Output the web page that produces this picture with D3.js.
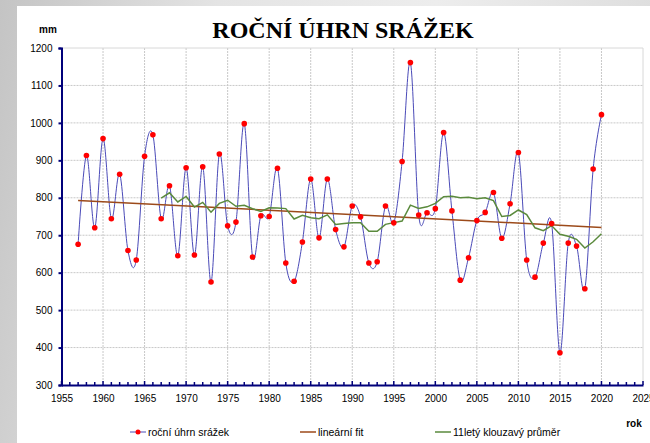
<!DOCTYPE html>
<html>
<head>
<meta charset="utf-8">
<script src="https://cdn.jsdelivr.net/npm/d3@7"></script>
<style>
  html, body { margin: 0; padding: 0; }
  body {
    width: 650px; height: 443px; overflow: hidden;
    background: linear-gradient(100deg, #c4c4c4 0%, #e4e4e4 30%, #ededed 60%, #d9d9d9 100%);
  }
  svg { display: block; }
</style>
</head>
<body>
<div id="chart"></div>
<script>
// roky a roční úhrny srážek (mm)
const years = d3.range(1957, 2021);
const rainfall = [
  676, 913, 720, 958, 744, 863, 659, 634, 911, 968,
  744, 832, 645, 880, 647, 883, 575, 917, 725, 735,
  998, 642, 752, 750, 879, 626, 577, 682, 850, 693,
  850, 715, 669, 778, 749, 626, 629, 778, 733, 897,
  1161, 754, 760, 771, 974, 765, 580, 640, 739, 761,
  814, 692, 784, 921, 634, 588, 679, 731, 386, 679,
  671, 557, 877, 1022
];
const xTicks = d3.range(1955, 2026, 5);
const yTicks = d3.range(300, 1201, 100);
const seriesNames = ['roční úhrn srážek', 'lineární fit', '11letý klouzavý průměr'];

const width = 650, height = 443;
const plot = { left: 61.5, right: 643, top: 48, bottom: 385 };

const svg = d3.select('#chart').append('svg')
  .attr('width', width)
  .attr('height', height);

// bílý panel grafu
svg.append('rect')
  .attr('x', 17).attr('y', 6)
  .attr('width', width - 17).attr('height', height - 6)
  .attr('fill', '#ffffff');

const x = d3.scaleLinear().domain([1955, 2025]).range([plot.left, plot.right]);
const y = d3.scaleLinear().domain([300, 1200]).range([plot.bottom, plot.top]);

const data = years.map((yr, i) => ({ year: yr, value: rainfall[i] }));

// lineární regrese
const mx = d3.mean(years), my = d3.mean(rainfall);
const slope = d3.sum(data, d => (d.year - mx) * (d.value - my)) / d3.sum(data, d => (d.year - mx) ** 2);
const fit = [years[0], years[years.length - 1]].map(yr => ({ year: yr, value: my + slope * (yr - mx) }));

// 11letý klouzavý průměr
const moving = data.slice(10).map((d, i) => ({
  year: d.year,
  value: d3.mean(rainfall.slice(i, i + 11))
}));

// mřížka
const grid = svg.append('g').attr('class', 'grid');
grid.selectAll('line.gx')
  .data(xTicks.slice(1, -1))
  .enter().append('line')
  .attr('x1', d => x(d)).attr('x2', d => x(d))
  .attr('y1', plot.top).attr('y2', plot.bottom)
  .attr('stroke', '#c8c8c8').attr('stroke-dasharray', '2,1');
grid.selectAll('line.gy')
  .data(yTicks.slice(1, -1))
  .enter().append('line')
  .attr('x1', plot.left).attr('x2', plot.right)
  .attr('y1', d => y(d)).attr('y2', d => y(d))
  .attr('stroke', '#c8c8c8').attr('stroke-dasharray', '2,1');
// horní a pravý okraj
grid.append('path')
  .attr('d', `M${plot.left},${plot.top}H${plot.right}V${plot.bottom}`)
  .attr('fill', 'none')
  .attr('stroke', '#d8d8d8')
  .attr('stroke-width', 1);

// osy
const xAxis = svg.append('g')
  .attr('transform', `translate(0, ${plot.bottom})`)
  .call(d3.axisBottom(x).tickValues(xTicks).tickFormat(d3.format('d')).tickSize(0).tickPadding(10));
const yAxis = svg.append('g')
  .attr('transform', `translate(${plot.left}, 0)`)
  .call(d3.axisLeft(y).tickValues(yTicks).tickFormat(d3.format('d')).tickSize(3).tickPadding(6));

[xAxis, yAxis].forEach(ax => {
  ax.select('.domain').attr('stroke', '#00007a').attr('stroke-width', 2);
  ax.selectAll('.tick line').attr('stroke', '#00007a').attr('stroke-width', 2);
  ax.selectAll('.tick text')
    .attr('fill', '#000')
    .attr('font-family', 'Liberation Sans, Arial, sans-serif')
    .attr('font-size', 10);
});

// drobné značky na ose x (každý rok)
svg.append('g')
  .selectAll('line')
  .data(d3.range(1955, 2026))
  .enter().append('line')
  .attr('x1', d => x(d)).attr('x2', d => x(d))
  .attr('y1', plot.bottom).attr('y2', d => plot.bottom - (d % 5 === 0 ? 4 : 3))
  .attr('stroke', '#00007a')
  .attr('stroke-width', 1.5);

// vyhlazená křivka srážek
svg.append('path')
  .datum(data)
  .attr('fill', 'none')
  .attr('stroke', '#4a4ab8')
  .attr('stroke-width', 1)
  .attr('d', d3.line().x(d => x(d.year)).y(d => y(d.value)).curve(d3.curveCardinal.tension(0)));

// lineární fit
svg.append('path')
  .datum(fit)
  .attr('fill', 'none')
  .attr('stroke', '#9c4a1a')
  .attr('stroke-width', 1.5)
  .attr('d', d3.line().x(d => x(d.year)).y(d => y(d.value)));

// klouzavý průměr
svg.append('path')
  .datum(moving)
  .attr('fill', 'none')
  .attr('stroke', '#5a8a3c')
  .attr('stroke-width', 1.5)
  .attr('d', d3.line().x(d => x(d.year)).y(d => y(d.value)));

// body
svg.append('g')
  .selectAll('circle')
  .data(data)
  .enter().append('circle')
  .attr('cx', d => x(d.year))
  .attr('cy', d => y(d.value))
  .attr('r', 2.8)
  .attr('fill', '#ff0000');

// nadpis a popisky
svg.append('text')
  .attr('x', 343).attr('y', 38)
  .attr('text-anchor', 'middle')
  .attr('font-family', 'Liberation Serif, Times New Roman, serif')
  .attr('font-weight', 'bold')
  .attr('font-size', 24)
  .text('ROČNÍ ÚHRN SRÁŽEK');

svg.append('text')
  .attr('x', 48).attr('y', 33)
  .attr('text-anchor', 'middle')
  .attr('font-family', 'Liberation Sans, Arial, sans-serif')
  .attr('font-weight', 'bold')
  .attr('font-size', 10)
  .text('mm');

svg.append('text')
  .attr('x', 634).attr('y', 427)
  .attr('text-anchor', 'middle')
  .attr('font-family', 'Liberation Sans, Arial, sans-serif')
  .attr('font-weight', 'bold')
  .attr('font-size', 10)
  .text('rok');

// legenda
const legendX = [130, 300, 435];
const legendColors = ['#4a4ab8', '#9c4a1a', '#5a8a3c'];
const legend = svg.append('g')
  .selectAll('g')
  .data(seriesNames)
  .enter().append('g')
  .attr('transform', (d, i) => `translate(${legendX[i]}, 432)`);

legend.append('line')
  .attr('x1', 0).attr('x2', 16)
  .attr('y1', 0).attr('y2', 0)
  .attr('stroke', (d, i) => legendColors[i])
  .attr('stroke-width', (d, i) => i === 0 ? 1 : 1.5);

legend.filter((d, i) => i === 0).append('circle')
  .attr('cx', 8).attr('cy', 0).attr('r', 2.5)
  .attr('fill', '#ff0000');

legend.append('text')
  .attr('x', 18).attr('y', 4)
  .attr('font-family', 'Liberation Sans, Arial, sans-serif')
  .attr('font-size', 10.5)
  .attr('fill', '#000')
  .text(d => d);
</script>
</body>
</html>
